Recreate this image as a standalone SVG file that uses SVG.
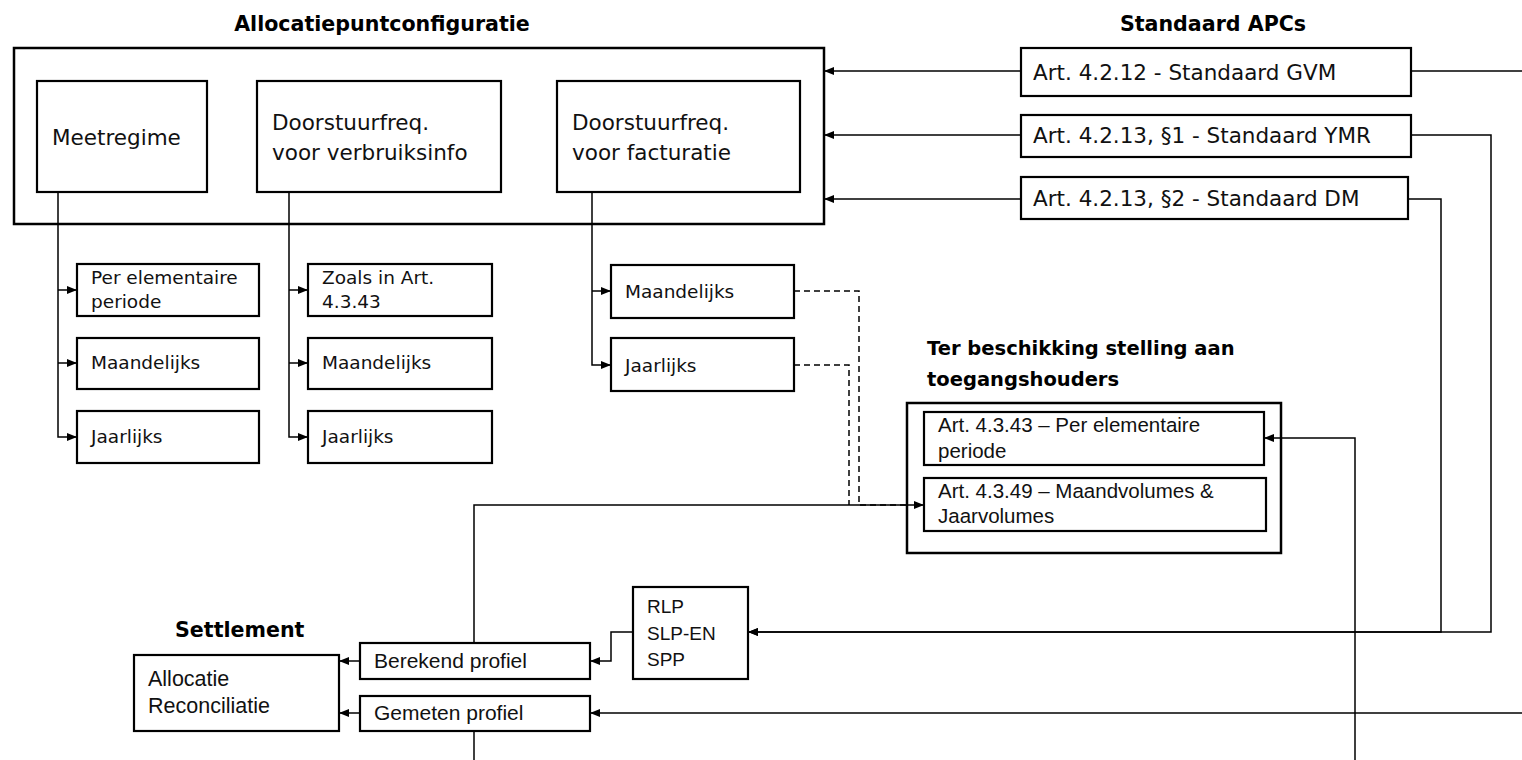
<svg xmlns="http://www.w3.org/2000/svg" width="1522" height="760" viewBox="0 0 1522 760">
<defs>
<style>
.box{fill:#fff;stroke:#000;stroke-width:2.2}
.frame{fill:none;stroke:#000;stroke-width:2.5}
.ttl{font-family:"DejaVu Sans",sans-serif;font-weight:bold;font-size:20.6px;fill:#000}
.big{font-family:"DejaVu Sans",sans-serif;font-size:21.5px;fill:#111}
.sm{font-family:"DejaVu Sans",sans-serif;font-size:18.5px;fill:#111}
.nar{font-family:"Liberation Sans",Arial,sans-serif;font-size:20.5px;fill:#111}
.con{fill:none;stroke:#000;stroke-width:1.5}
.dash{fill:none;stroke:#000;stroke-width:1.5;stroke-dasharray:6,4}
</style>
<marker id="ah" viewBox="0 0 10 8" refX="10" refY="4" markerWidth="10" markerHeight="8" markerUnits="userSpaceOnUse" orient="auto">
<path d="M0,0 L10,4 L0,8 z" fill="#000"/>
</marker>
</defs>
<rect width="1522" height="760" fill="#fff"/>

<g id="connectors">
<path class="con" d="M1021,71 H824" marker-end="url(#ah)"/>
<path class="con" d="M1021,135 H824" marker-end="url(#ah)"/>
<path class="con" d="M1021,199 H824" marker-end="url(#ah)"/>
<path class="con" d="M1411,71 H1522"/>
<path class="con" d="M1411,135 H1491 V632 H748" marker-end="url(#ah)"/>
<path class="con" d="M1408,199 H1441 V632 H748" marker-end="url(#ah)"/>
<path class="con" d="M58,192 V437 H77" marker-end="url(#ah)"/>
<path class="con" d="M58,290 H77" marker-end="url(#ah)"/>
<path class="con" d="M58,363 H77" marker-end="url(#ah)"/>
<path class="con" d="M289,192 V437 H308" marker-end="url(#ah)"/>
<path class="con" d="M289,290 H308" marker-end="url(#ah)"/>
<path class="con" d="M289,363 H308" marker-end="url(#ah)"/>
<path class="con" d="M592,192 V365 H611" marker-end="url(#ah)"/>
<path class="con" d="M592,291 H611" marker-end="url(#ah)"/>
<path class="dash" d="M794,291 H859 V505 H906"/>
<path class="dash" d="M794,365 H849 V505"/>
<path class="con" d="M474,643 V505 H924" marker-end="url(#ah)"/>
<path class="con" d="M1355,760 V438 H1264" marker-end="url(#ah)"/>
<path class="con" d="M633,632 H611 V661 H590" marker-end="url(#ah)"/>
<path class="con" d="M360,661 H339" marker-end="url(#ah)"/>
<path class="con" d="M360,713 H339" marker-end="url(#ah)"/>
<path class="con" d="M1522,713 H590" marker-end="url(#ah)"/>
<path class="con" d="M474,731 V760"/>
</g>

<g id="allocatiepuntconfiguratie">
<text class="ttl" x="382" y="31" text-anchor="middle">Allocatiepuntconfiguratie</text>
<rect class="frame" x="14" y="48" width="810" height="176"/>
</g>
<g id="meetregime">
<rect class="box" x="37" y="81" width="170" height="111"/>
<text class="big" x="52" y="145">Meetregime</text>
</g>
<g id="doorstuur-verbruik">
<rect class="box" x="257" y="81" width="244" height="111"/>
<text class="big" x="272" y="130">Doorstuurfreq.</text>
<text class="big" x="272" y="160">voor verbruiksinfo</text>
</g>
<g id="doorstuur-facturatie">
<rect class="box" x="557" y="81" width="243" height="111"/>
<text class="big" x="572" y="130">Doorstuurfreq.</text>
<text class="big" x="572" y="160">voor facturatie</text>
</g>

<g id="standaard-apcs">
<text class="ttl" x="1213" y="31" text-anchor="middle">Standaard APCs</text>
</g>
<g id="apc-gvm">
<rect class="box" x="1021" y="48" width="390" height="48"/>
<text class="big" x="1033" y="80">Art. 4.2.12 - Standaard GVM</text>
</g>
<g id="apc-ymr">
<rect class="box" x="1021" y="115" width="390" height="42"/>
<text class="big" x="1033" y="143">Art. 4.2.13, §1 - Standaard YMR</text>
</g>
<g id="apc-dm">
<rect class="box" x="1021" y="177" width="387" height="42"/>
<text class="big" x="1033" y="206">Art. 4.2.13, §2 - Standaard DM</text>
</g>

<g id="m-per-elementaire">
<rect class="box" x="77" y="264" width="182" height="52"/>
<text class="sm" x="91" y="284">Per elementaire</text>
<text class="sm" x="91" y="308">periode</text>
</g>
<g id="m-maandelijks">
<rect class="box" x="77" y="338" width="182" height="51"/>
<text class="sm" x="91" y="369">Maandelijks</text>
</g>
<g id="m-jaarlijks">
<rect class="box" x="77" y="411" width="182" height="52"/>
<text class="sm" x="91" y="443">Jaarlijks</text>
</g>

<g id="v-zoals">
<rect class="box" x="308" y="264" width="184" height="52"/>
<text class="sm" x="322" y="284">Zoals in Art.</text>
<text class="sm" x="322" y="308">4.3.43</text>
</g>
<g id="v-maandelijks">
<rect class="box" x="308" y="338" width="184" height="51"/>
<text class="sm" x="322" y="369">Maandelijks</text>
</g>
<g id="v-jaarlijks">
<rect class="box" x="308" y="411" width="184" height="52"/>
<text class="sm" x="322" y="443">Jaarlijks</text>
</g>

<g id="f-maandelijks">
<rect class="box" x="611" y="265" width="183" height="53"/>
<text class="sm" x="625" y="298">Maandelijks</text>
</g>
<g id="f-jaarlijks">
<rect class="box" x="611" y="338" width="183" height="53"/>
<text class="sm" x="625" y="372">Jaarlijks</text>
</g>

<g id="ter-beschikking">
<text class="ttl" x="927" y="355" style="font-size:19.5px">Ter beschikking stelling aan</text>
<text class="ttl" x="927" y="386" style="font-size:19.5px">toegangshouders</text>
<rect class="frame" x="907" y="403" width="374" height="150"/>
</g>
<g id="art-4-3-43">
<rect class="box" x="924" y="412" width="340" height="53"/>
<text class="nar" x="938" y="432">Art. 4.3.43 – Per elementaire</text>
<text class="nar" x="938" y="458">periode</text>
</g>
<g id="art-4-3-49">
<rect class="box" x="924" y="478" width="342" height="53"/>
<text class="nar" x="938" y="498">Art. 4.3.49 – Maandvolumes &amp;</text>
<text class="nar" x="938" y="523">Jaarvolumes</text>
</g>

<g id="rlp">
<rect class="box" x="633" y="587" width="115" height="92"/>
<text class="nar" x="647" y="613" style="font-size:19px">RLP</text>
<text class="nar" x="647" y="640" style="font-size:19px">SLP-EN</text>
<text class="nar" x="647" y="666" style="font-size:19px">SPP</text>
</g>
<g id="berekend-profiel">
<rect class="box" x="360" y="643" width="230" height="36"/>
<text class="nar" x="374" y="668" style="font-size:21px">Berekend profiel</text>
</g>
<g id="gemeten-profiel">
<rect class="box" x="360" y="696" width="230" height="35"/>
<text class="nar" x="374" y="720" style="font-size:21px">Gemeten profiel</text>
</g>
<g id="settlement">
<text class="ttl" x="175" y="637">Settlement</text>
<rect class="box" x="134" y="655" width="205" height="76"/>
<text class="nar" x="148" y="686" style="font-size:21.5px">Allocatie</text>
<text class="nar" x="148" y="713" style="font-size:21.5px">Reconciliatie</text>
</g>
</svg>
